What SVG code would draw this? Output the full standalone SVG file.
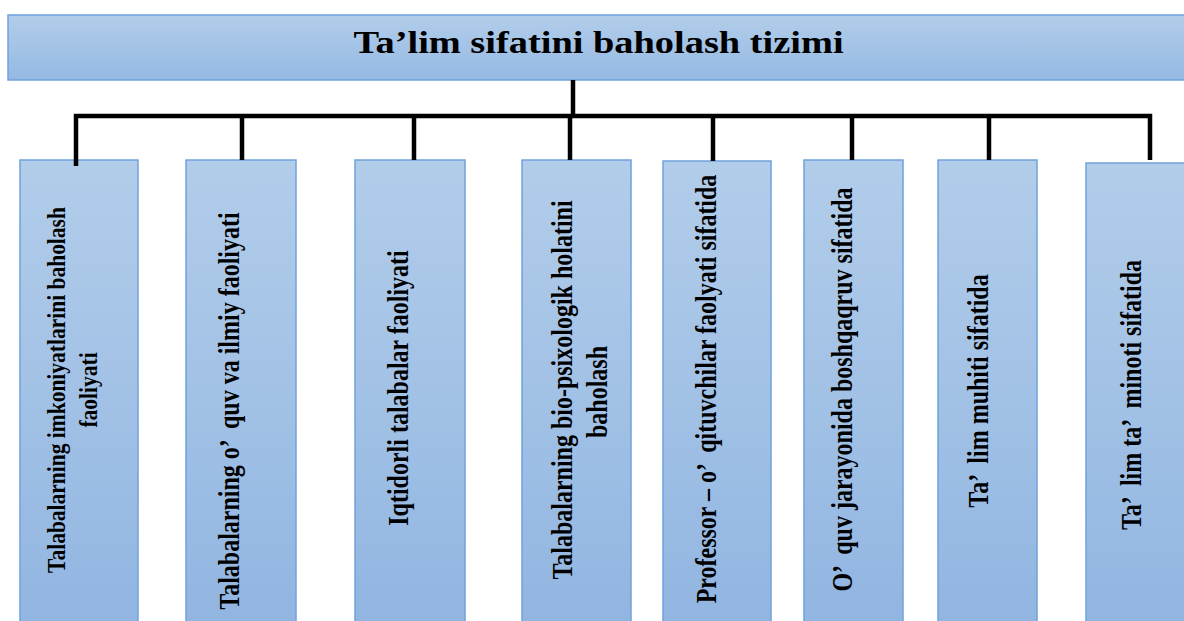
<svg xmlns="http://www.w3.org/2000/svg" width="1184" height="621" viewBox="0 0 1184 621">
<defs>
<linearGradient id="gTitle" x1="0" y1="0" x2="0" y2="1">
<stop offset="0" stop-color="#b2cdea"/>
<stop offset="1" stop-color="#95b9e3"/>
</linearGradient>
<linearGradient id="gBox" x1="0" y1="0" x2="0" y2="1">
<stop offset="0" stop-color="#b2cdea"/>
<stop offset="1" stop-color="#91b5e1"/>
</linearGradient>
</defs>
<style>
.box{fill:url(#gBox);stroke:#6fa3dc;stroke-width:1.5}
.tbox{fill:url(#gTitle);stroke:#6fa3dc;stroke-width:1.5}
.t{font-family:"Liberation Serif","Times New Roman",serif;font-weight:bold;fill:#000;text-anchor:middle;white-space:pre}
.v{font-size:24px}
.c{stroke:#000;stroke-width:4.5;fill:none;stroke-linecap:butt}
</style>
<rect width="1184" height="621" fill="#fff"/>
<g id="title">
<rect class="tbox" x="8" y="15" width="1190" height="65"/>
<text class="t" font-size="32" transform="translate(598.5,53) scale(1.2,1)">Ta’lim sifatini baholash tizimi</text>
</g>
<g id="n1">
<rect class="box" x="20" y="160" width="118" height="470"/>
<text class="t" font-size="21.5" transform="translate(65,390) scale(1.2,1) rotate(-90)">Talabalarning imkoniyatlarini baholash</text>
<text class="t" font-size="21.5" transform="translate(97,390) scale(1.2,1) rotate(-90)">faoliyati</text>
</g>
<g id="n2">
<rect class="box" x="186" y="160" width="110" height="470"/>
<text class="t v" transform="translate(239,411) scale(1.2,1) rotate(-90)">Talabalarning o’  quv va ilmiy faoliyati</text>
</g>
<g id="n3">
<rect class="box" x="355" y="160" width="110" height="470"/>
<text class="t v" transform="translate(408,388) scale(1.2,1) rotate(-90)">Iqtidorli talabalar faoliyati</text>
</g>
<g id="n4">
<rect class="box" x="522" y="160" width="109" height="470"/>
<text class="t v" transform="translate(572,390) scale(1.2,1) rotate(-90)">Talabalarning bio-psixologik holatini</text>
<text class="t v" transform="translate(607,392) scale(1.2,1) rotate(-90)">baholash</text>
</g>
<g id="n5">
<rect class="box" x="663" y="161" width="108" height="470"/>
<text class="t v" transform="translate(716,389) scale(1.2,1) rotate(-90)">Professor – o’  qituvchilar faolyati sifatida</text>
</g>
<g id="n6">
<rect class="box" x="804" y="160" width="99" height="470"/>
<text class="t v" transform="translate(852,389.5) scale(1.2,1) rotate(-90)">O’  quv jarayonida boshqaqruv sifatida</text>
</g>
<g id="n7">
<rect class="box" x="938" y="160" width="99" height="470"/>
<text class="t v" transform="translate(988,391) scale(1.2,1) rotate(-90)">Ta’  lim muhiti sifatida</text>
</g>
<g id="n8">
<rect class="box" x="1086" y="163" width="110" height="470"/>
<text class="t v" transform="translate(1141,395) scale(1.2,1) rotate(-90)">Ta’  lim ta’  minoti sifatida</text>
</g>
<g id="connectors">
<path class="c" d="M573 80 V116"/>
<path class="c" d="M76 166 V116 H1150 V160"/>
<path class="c" d="M242 116 V160"/>
<path class="c" d="M414 116 V160"/>
<path class="c" d="M570 116 V160"/>
<path class="c" d="M713 116 V161"/>
<path class="c" d="M852 116 V160"/>
<path class="c" d="M989 116 V160"/>
</g>
</svg>
